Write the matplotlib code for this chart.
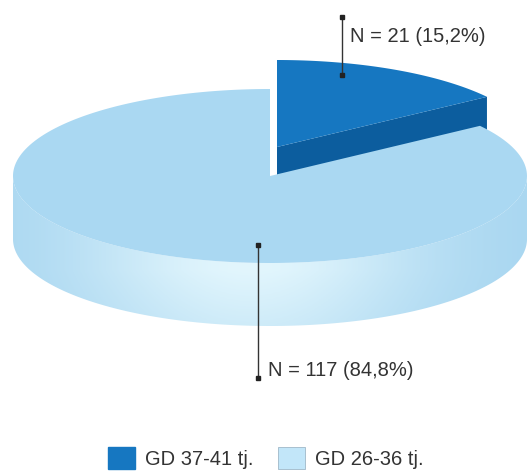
import numpy as np
import matplotlib.pyplot as plt
from matplotlib.patches import Polygon, Patch
from matplotlib.colors import to_rgb

plt.rcParams['font.family'] = ['Liberation Sans', 'DejaVu Sans']

# Données
labels = ['GD 37-41 tj.', 'GD 26-36 tj.']
counts = [21, 117]
pcts = [15.2, 84.8]

# Couleurs
dark_top = '#1677c1'
dark_side = '#0c5d9e'
light_top = '#aad8f2'
light_edge = '#a6d5f0'
light_hi = '#e2f6fd'
legend_light = '#c2e6f9'

fig = plt.figure(figsize=(5.32, 4.71), dpi=100)
ax = fig.add_axes([0, 0, 1, 1])
ax.set_xlim(0, 532)
ax.set_ylim(471, 0)
ax.axis('off')

# Géométrie du camembert 3D (en pixels)
cx, cy, rx, ry, depth = 270, 176, 257, 87, 63
explode = (7, -29)


def arc(a1, a2, ox=0, oy=0, dz=0, n=200):
    t = np.radians(np.linspace(a1, a2, n))
    return np.column_stack([cx + ox + rx * np.cos(t), cy + oy - ry * np.sin(t) + dz])


spans = 360 * np.array(counts) / sum(counts)
start = 90

# Tranche foncée (détachée)
a0, a1 = start - spans[0], start
ox, oy = explode
apex = np.array([cx + ox, cy + oy])
rim = arc(a0, a0, ox, oy)[0]
cut = np.array([apex, rim, rim + [0, depth], apex + [0, depth]])
ax.add_patch(Polygon(cut, closed=True, fc=dark_side, ec='none', zorder=1))
top = np.vstack([apex, arc(a0, a1, ox, oy)])
ax.add_patch(Polygon(top, closed=True, fc=dark_top, ec='none', zorder=2))

# Tranche claire : paroi avant avec dégradé
b0, b1 = start, start + spans[1]
w0, w1 = max(b0, 180), min(b1, 360)
side = np.vstack([arc(w0, w1), arc(w1, w0, dz=depth)])
side_patch = Polygon(side, closed=True, fc='none', ec='none', zorder=3)
ax.add_patch(side_patch)
xs = np.linspace(0, 532, 300)
ys = np.linspace(0, 471, 200)
X, Y = np.meshgrid(xs, ys)
f = np.exp(-((X - 250) / 170) ** 2) * (1 - 0.35 * np.clip((Y - 270) / 60, 0, 1))
c_edge = np.array(to_rgb(light_edge))
c_hi = np.array(to_rgb(light_hi))
img = c_edge + f[..., None] * (c_hi - c_edge)
im = ax.imshow(img, extent=(0, 532, 471, 0), zorder=3, aspect='auto')
im.set_clip_path(side_patch)
ax.set_xlim(0, 532)
ax.set_ylim(471, 0)

top2 = np.vstack([[cx, cy], arc(b0, b1)])
ax.add_patch(Polygon(top2, closed=True, fc=light_top, ec='none', zorder=4))

# Étiquettes
ann = [((342, 75), (342, 17), (350, 36)), ((258, 245), (258, 378), (268, 370))]
for i, (p_in, p_out, p_txt) in enumerate(ann):
    ax.plot([p_in[0], p_out[0]], [p_in[1], p_out[1]], color='#333333', lw=1, zorder=6)
    ax.plot([p_in[0], p_out[0]], [p_in[1], p_out[1]], 's', color='#222222', ms=3.5, zorder=6)
    ax.text(p_txt[0], p_txt[1], f'N = {counts[i]} ({pcts[i]:.1f}%)'.replace('.', ','),
            fontsize=14.5, color='#333333', va='center', ha='left', zorder=6)

# Légende
handles = [Patch(fc=dark_top, ec=dark_top), Patch(fc=legend_light, ec='#9fb8c8', lw=0.6)]
ax.legend(handles, labels, loc='center', bbox_to_anchor=(0.5, 0.028), ncol=2, frameon=False,
          fontsize=14.5, handlelength=1.35, handleheight=1.35, handletextpad=0.5,
          columnspacing=1.2, labelcolor='#333333')

plt.savefig('out.png', dpi=100)
